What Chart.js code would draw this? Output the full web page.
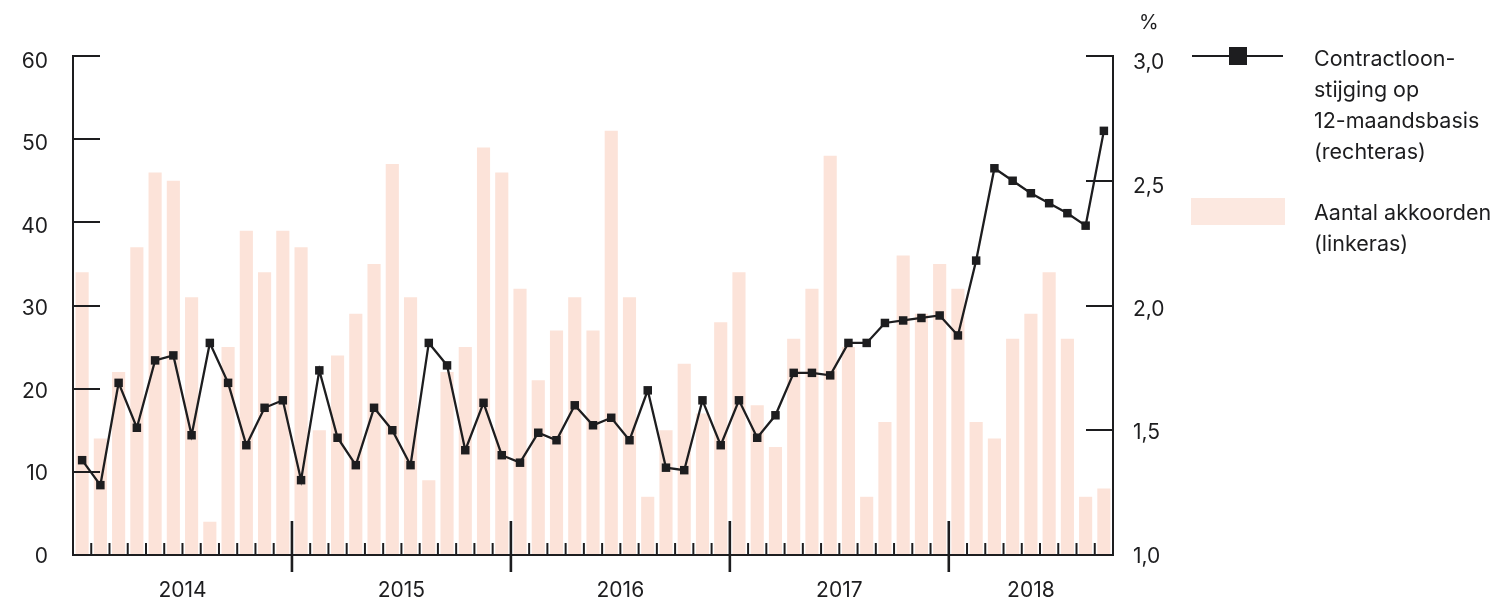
<!DOCTYPE html>
<html>
<head>
<meta charset="utf-8">
<script src="https://cdn.jsdelivr.net/npm/chart.js@4.4.0/dist/chart.umd.min.js"></script>
<style>
  html, body { margin: 0; padding: 0; background: #fff; }
  #wrap { position: relative; width: 1504px; height: 599px; font-family: "Inter", "Noto Sans", sans-serif; color: #1d1d1f; }
  canvas { position: absolute; left: 0; top: 0; }
  .txt { position: absolute; font-size: 21.5px; line-height: 31px; white-space: nowrap; }
  .lgLine { position: absolute; left: 1192px; top: 55px; width: 91px; height: 2px; background: #1d1d1f; }
  .lgSq { position: absolute; left: 1229px; top: 47px; width: 18px; height: 18px; background: #1d1d1f; }
  .lgRect { position: absolute; left: 1191px; top: 198px; width: 94px; height: 27px; background: #fce8e0; }
</style>
</head>
<body>
<div id="wrap">
  <canvas id="c" width="1504" height="599"></canvas>
  <div class="txt" style="left:1139px; top:7px; font-size:20px;">%</div>
  <div class="lgLine"></div><div class="lgSq"></div>
  <div class="txt" style="left:1314px; top:43px;">Contractloon-<br>stijging op<br>12-maandsbasis<br>(rechteras)</div>
  <div class="lgRect"></div>
  <div class="txt" style="left:1314px; top:197px;">Aantal akkoorden<br>(linkeras)</div>
</div>
<script>
// ---- data ----
const years = [2014, 2015, 2016, 2017, 2018];
const monthsPerYear = [12, 12, 12, 12, 9];

const akkoorden = [
  34, 14, 22, 37, 46, 45, 31, 4, 25, 39, 34, 39,
  37, 15, 24, 29, 35, 47, 31, 9, 22, 25, 49, 46,
  32, 21, 27, 31, 27, 51, 31, 7, 15, 23, 17, 28,
  34, 18, 13, 26, 32, 48, 25, 7, 16, 36, 29, 35,
  32, 16, 14, 26, 29, 34, 26, 7, 8
];

const contractloon = [
  1.38, 1.28, 1.69, 1.51, 1.78, 1.80, 1.48, 1.85, 1.69, 1.44, 1.59, 1.62,
  1.30, 1.74, 1.47, 1.36, 1.59, 1.50, 1.36, 1.85, 1.76, 1.42, 1.61, 1.40,
  1.37, 1.49, 1.46, 1.60, 1.52, 1.55, 1.46, 1.66, 1.35, 1.34, 1.62, 1.44,
  1.62, 1.47, 1.56, 1.73, 1.73, 1.72, 1.85, 1.85, 1.93, 1.94, 1.95, 1.96,
  1.88, 2.18, 2.55, 2.50, 2.45, 2.41, 2.37, 2.32, 2.70
];

const leftTicks = [0, 10, 20, 30, 40, 50, 60];
const rightTicks = [1.0, 1.5, 2.0, 2.5, 3.0];
const leftTickLabels = ['0', '10', '20', '30', '40', '50', '60'];
const rightTickLabels = ['1,0', '1,5', '2,0', '2,5', '3,0'];

// category labels: year-month
const labels = [];
years.forEach((y, i) => {
  for (let m = 1; m <= monthsPerYear[i]; m++) labels.push(y + '-' + String(m).padStart(2, '0'));
});

const INK = '#1d1d1f';
const FONT = '"Inter", "Noto Sans", sans-serif';

const axesPlugin = {
  id: 'customAxes',
  afterDatasetsDraw(chart) {
    const ctx = chart.ctx;
    const ca = chart.chartArea;
    const x = chart.scales.x, yl = chart.scales.y, yr = chart.scales.y1;
    ctx.save();
    ctx.strokeStyle = INK;
    ctx.lineCap = 'butt';
    // left axis + ticks
    ctx.lineWidth = 2;
    ctx.beginPath();
    ctx.moveTo(ca.left, yl.getPixelForValue(60) - 1);
    ctx.lineTo(ca.left, ca.bottom + 1);
    ctx.stroke();
    leftTicks.forEach(v => {
      if (v === 0) return;
      const py = Math.round(yl.getPixelForValue(v));
      ctx.beginPath(); ctx.moveTo(ca.left, py); ctx.lineTo(ca.left + 27, py); ctx.stroke();
    });
    // right axis + ticks
    ctx.beginPath();
    ctx.moveTo(ca.right, yr.getPixelForValue(3) - 1);
    ctx.lineTo(ca.right, ca.bottom + 1);
    ctx.stroke();
    rightTicks.forEach(v => {
      if (v === 1.0) return;
      const py = Math.round(yr.getPixelForValue(v));
      ctx.beginPath(); ctx.moveTo(ca.right, py); ctx.lineTo(ca.right - 27, py); ctx.stroke();
    });
    // bottom axis
    ctx.beginPath(); ctx.moveTo(ca.left, ca.bottom); ctx.lineTo(ca.right, ca.bottom); ctx.stroke();
    // month boundaries
    const n = labels.length;
    const bounds = [];
    for (let i = 1; i < n; i++) bounds.push((x.getPixelForValue(i - 1) + x.getPixelForValue(i)) / 2);
    let idx = 0; const yearBoundaryIdx = new Set();
    monthsPerYear.forEach((m, k) => { idx += m; if (k < monthsPerYear.length - 1) yearBoundaryIdx.add(idx); });
    bounds.forEach((px, j) => {
      const i = j + 1;
      if (yearBoundaryIdx.has(i)) {
        ctx.lineWidth = 2.6;
        ctx.beginPath(); ctx.moveTo(px, ca.bottom - 34); ctx.lineTo(px, ca.bottom + 17); ctx.stroke();
      } else {
        ctx.lineWidth = 2;
        ctx.beginPath(); ctx.moveTo(px, ca.bottom - 12); ctx.lineTo(px, ca.bottom); ctx.stroke();
      }
    });
    // tick labels
    ctx.fillStyle = INK;
    ctx.font = '21px ' + FONT;
    ctx.textBaseline = 'middle';
    ctx.textAlign = 'right';
    leftTicks.forEach((v, i) => {
      const frac = v / 60;
      ctx.fillText(leftTickLabels[i], ca.left - 25, yl.getPixelForValue(v) + 1.5 + 4 * frac);
    });
    ctx.textAlign = 'left';
    rightTicks.forEach((v, i) => {
      const frac = (v - 1) / 2;
      ctx.fillText(rightTickLabels[i], ca.right + 20, yr.getPixelForValue(v) + 1.5 + 5.5 * frac);
    });
    // year labels
    ctx.textAlign = 'center';
    let start = 0;
    monthsPerYear.forEach((m, k) => {
      const leftPx = start === 0 ? ca.left : bounds[start - 1];
      const endIdx = start + m;
      const rightPx = endIdx >= n ? ca.right : bounds[endIdx - 1];
      ctx.fillText(String(years[k]), (leftPx + rightPx) / 2, ca.bottom + 36);
      start = endIdx;
    });
    ctx.restore();
  }
};

new Chart(document.getElementById('c'), {
  type: 'bar',
  data: {
    labels: labels,
    datasets: [
      {
        type: 'line',
        label: 'Contractloonstijging op 12-maandsbasis (rechteras)',
        data: contractloon,
        yAxisID: 'y1',
        borderColor: INK,
        borderWidth: 2.3,
        pointStyle: 'rect',
        pointRadius: 6,
        pointBackgroundColor: INK,
        pointBorderWidth: 0,
        tension: 0,
        order: 1
      },
      {
        type: 'bar',
        label: 'Aantal akkoorden (linkeras)',
        data: akkoorden,
        yAxisID: 'y',
        backgroundColor: '#fce3d9',
        borderWidth: 0,
        categoryPercentage: 1.0,
        barPercentage: 0.72,
        order: 2
      }
    ]
  },
  options: {
    responsive: false,
    animation: false,
    events: [],
    layout: { padding: { top: 56, bottom: 44, left: 0, right: 0 }, autoPadding: false },
    plugins: { legend: { display: false }, tooltip: { enabled: false } },
    scales: {
      x: { display: false, offset: true },
      y: {
        position: 'left', min: 0, max: 60,
        afterFit(s) { s.width = 73; },
        afterBuildTicks(s) { s.ticks = leftTicks.map(v => ({ value: v })); },
        grid: { display: false, drawTicks: false },
        border: { display: false },
        ticks: { display: false }
      },
      y1: {
        position: 'right', min: 1, max: 3,
        afterFit(s) { s.width = 391; },
        afterBuildTicks(s) { s.ticks = rightTicks.map(v => ({ value: v })); },
        grid: { display: false, drawTicks: false },
        border: { display: false },
        ticks: { display: false }
      }
    }
  },
  plugins: [axesPlugin]
});
</script>
</body>
</html>
